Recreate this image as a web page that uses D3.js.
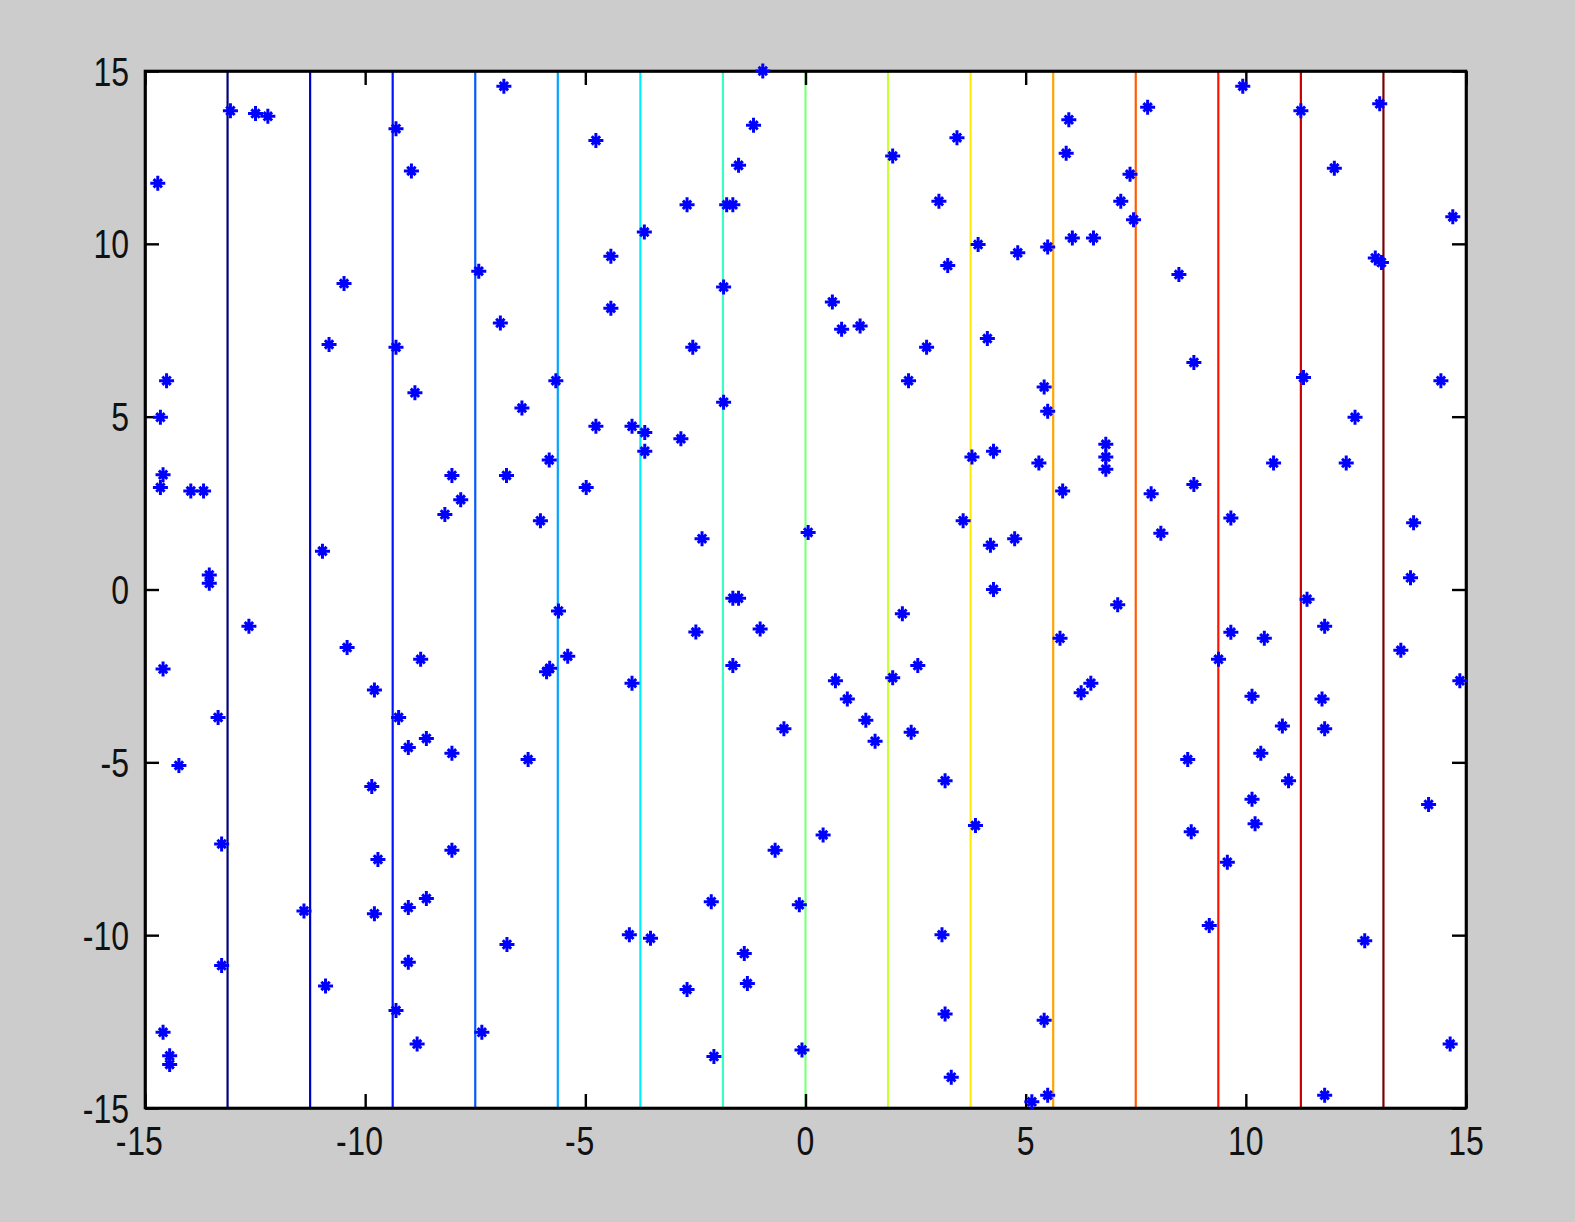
<!DOCTYPE html>
<html>
<head>
<meta charset="utf-8">
<script src="https://cdn.jsdelivr.net/npm/d3@7"></script>
<style>
  html, body { margin: 0; padding: 0; background: #cccccc; }
  svg { display: block; }
</style>
</head>
<body>
<svg id="chart" width="1575" height="1222"></svg>
<script>
// ---------------- data ----------------
const xDomain = [-15, 15];
const yDomain = [-15, 15];
const xTickValues = [-15, -10, -5, 0, 5, 10, 15];
const yTickValues = [-15, -10, -5, 0, 5, 10, 15];

// vertical reference lines (x positions) and their jet colours
const lineX = [-13.125, -11.25, -9.375, -7.5, -5.625, -3.75, -1.875, 0, 1.875, 3.75, 5.625, 7.5, 9.375, 11.25, 13.125];
const lineColors = ["#000080", "#0000c8", "#0012ff", "#005bff", "#00a4ff", "#00edff", "#37ffc8", "#80ff80",
                    "#c8ff37", "#ffed00", "#ffa400", "#ff5b00", "#ff1200", "#c80000", "#800000"];

// scattered points
const pointX = [
  -13.06, -12.49, -12.21, -9.30, -8.95, -6.85, -14.71, -7.42, -10.48, -6.93, -10.82, -9.30, -14.51, -5.67, -8.87, -6.44,
  -14.65, -5.82, -14.59, -14.65, -13.96, -13.67, -8.03, -6.79, -7.83, -8.19, -6.02, -4.98, -10.97, -13.54, -13.54,
  -0.97, -1.18, -4.76, 3.44, 1.98, -1.52, -2.69, -1.79, -1.65, 3.03, -3.66, 3.92, 4.82, -4.42, 3.23, -1.86, 0.61,
  -4.42, 0.82, 1.24, 4.13, -2.56, 2.75, 2.34, -1.86, -4.76, -3.94, -3.65, -2.83, -3.65, 3.78, 4.27, 3.58, 0.06,
  -2.35, 4.20, 4.75, 4.27,
  9.93, 7.77, 11.25, 13.04, 5.98, 5.92, 12.01, 7.37, 7.16, 7.45, 14.70, 6.06, 6.54, 5.50, 12.94, 13.08, 8.48, 8.82,
  11.31, 14.43, 5.42, 5.50, 12.48, 6.82, 6.82, 6.82, 5.30, 10.63, 12.28, 5.84, 7.85, 8.82, 9.66, 13.81, 8.07, 13.74,
  -5.61, -12.64, -10.41, -5.40, -8.74, -14.59, -5.88, -5.81, -9.79, -13.34, -9.24, -8.61, -9.02, -8.03, -6.30, -14.23,
  -9.85, -13.26, -8.03, -9.71, -11.39, -9.79, -9.02, -8.61, -6.78, -13.26, -9.02, -10.90, -9.30, -14.59, -7.35, -8.82,
  -14.44, -14.44,
  -1.65, -1.52, 2.20, -2.49, -1.03, -1.65, 2.55, -3.94, 0.68, 1.98, 0.95, 1.37, -0.49, 2.40, 1.58, 3.17, 3.86, 0.40,
  -0.69, -2.14, -0.14, -4.00, -3.52, 3.10, -1.39, -2.69, -1.32, 3.17, -2.08, -0.08, 3.31,
  11.39, 7.09, 11.79, 5.78, 9.66, 10.42, 13.52, 9.38, 14.86, 6.26, 6.48, 10.14, 11.73, 10.83, 11.79, 10.34, 8.68,
  10.97, 10.14, 14.15, 10.21, 8.76, 9.58, 9.17, 12.70, 5.42, 14.64, 5.50, 5.14, 11.79
];
const pointY = [
  13.85, 13.77, 13.69, 13.33, 12.11, 14.56, 11.75, 9.21, 8.85, 7.71, 7.09, 7.01, 6.04, 6.04, 5.69, 5.25,
  4.98, 3.75, 3.32, 2.95, 2.85, 2.85, 3.30, 3.30, 2.60, 2.17, 1.99, 2.95, 1.11, 0.42, 0.18,
  15.0, 13.43, 12.99, 13.07, 12.54, 12.27, 11.13, 11.13, 11.13, 11.23, 10.34, 9.98, 9.74, 9.64, 9.37, 8.75, 8.32,
  8.14, 7.53, 7.62, 7.26, 7.01, 7.01, 6.04, 5.42, 4.72, 4.72, 4.54, 4.36, 4.00, 3.83, 4.00, 1.99, 1.65,
  1.47, 1.28, 1.47, 0.0,
  14.56, 13.95, 13.85, 14.05, 13.59, 12.62, 12.19, 12.01, 11.23, 10.70, 10.78, 10.17, 10.17, 9.91, 9.59, 9.46, 9.11, 6.57,
  6.13, 6.04, 5.86, 5.16, 4.98, 4.20, 3.83, 3.48, 3.66, 3.66, 3.66, 2.85, 2.77, 3.04, 2.07, 1.93, 1.63, 0.34,
  -0.62, -1.06, -1.68, -1.93, -2.02, -2.30, -2.38, -2.28, -2.91, -3.70, -3.70, -4.31, -4.57, -4.74, -4.92, -5.09,
  -5.70, -7.36, -7.54, -7.81, -9.30, -9.38, -9.20, -8.94, -10.27, -10.88, -10.78, -11.47, -12.18, -12.81, -12.81, -13.15,
  -13.49, -13.74,
  -0.25, -0.25, -0.70, -1.23, -1.14, -2.20, -2.20, -2.71, -2.64, -2.55, -3.17, -3.78, -4.03, -4.13, -4.39, -5.53, -6.83, -7.10,
  -7.54, -9.03, -9.12, -9.99, -10.09, -9.99, -10.53, -11.57, -11.40, -12.28, -13.51, -13.32, -14.11,
  -0.28, -0.44, -1.06, -1.41, -1.24, -1.41, -1.76, -2.02, -2.64, -2.99, -2.71, -3.09, -3.17, -3.95, -4.03, -4.74, -4.92,
  -5.53, -6.07, -6.22, -6.78, -7.01, -7.89, -9.72, -10.16, -12.46, -13.15, -14.63, -14.82, -14.63
];

// ---------------- layout ----------------
const plot = { left: 145, right: 1466, top: 71, bottom: 1108 };
const svg = d3.select("#chart");

svg.append("rect").attr("x", 0).attr("y", 0).attr("width", 1575).attr("height", 1222).attr("fill", "#cccccc");

const x = d3.scaleLinear().domain(xDomain).range([plot.left, plot.right]);
const y = d3.scaleLinear().domain(yDomain).range([plot.bottom, plot.top]);

svg.append("rect")
  .attr("x", plot.left).attr("y", plot.top)
  .attr("width", plot.right - plot.left).attr("height", plot.bottom - plot.top)
  .attr("fill", "#ffffff");

// vertical coloured lines
svg.append("g").selectAll("line")
  .data(lineX.map((v, i) => ({ v, c: lineColors[i] })))
  .join("line")
  .attr("x1", d => x(d.v)).attr("x2", d => x(d.v))
  .attr("y1", y(yDomain[0])).attr("y2", y(yDomain[1]))
  .attr("stroke", d => d.c)
  .attr("stroke-width", 2.2);

// axes with inward ticks (box on all four sides)
const tickLen = 14;
const axisStyle = g => {
  g.select(".domain").attr("stroke", "#000").attr("stroke-width", 2.6);
  g.selectAll(".tick line").attr("stroke", "#000").attr("stroke-width", 2.4);
  g.selectAll(".tick text").remove();
};
svg.append("g").attr("transform", `translate(0,${plot.bottom})`)
  .call(d3.axisTop(x).tickValues(xTickValues).tickSize(tickLen).tickSizeOuter(0)).call(axisStyle);
svg.append("g").attr("transform", `translate(0,${plot.top})`)
  .call(d3.axisBottom(x).tickValues(xTickValues).tickSize(tickLen).tickSizeOuter(0)).call(axisStyle);
svg.append("g").attr("transform", `translate(${plot.left},0)`)
  .call(d3.axisRight(y).tickValues(yTickValues).tickSize(tickLen).tickSizeOuter(0)).call(axisStyle);
svg.append("g").attr("transform", `translate(${plot.right},0)`)
  .call(d3.axisLeft(y).tickValues(yTickValues).tickSize(tickLen).tickSizeOuter(0)).call(axisStyle);

// box outline
svg.append("rect")
  .attr("x", plot.left).attr("y", plot.top)
  .attr("width", plot.right - plot.left).attr("height", plot.bottom - plot.top)
  .attr("fill", "none").attr("stroke", "#000").attr("stroke-width", 2.6);

// tick labels (narrow, tall MATLAB-like sans)
const fontSize = 40, sx = 0.8;
const labelFont = "'Liberation Sans', Arial, sans-serif";

// x labels: digits centred on tick, minus hanging left
const xl = svg.append("g");
xTickValues.forEach(v => {
  const g = xl.append("g").attr("transform", `translate(${x(v)},1155) scale(${sx},1)`);
  const t = g.append("text").text(String(Math.abs(v)))
    .attr("text-anchor", "middle").attr("font-family", labelFont)
    .attr("font-size", fontSize).attr("fill", "#111");
  if (v < 0) {
    const w = t.node().getComputedTextLength();
    g.append("text").text("-").attr("x", -w / 2 - 1)
      .attr("text-anchor", "end").attr("font-family", labelFont)
      .attr("font-size", fontSize).attr("fill", "#111");
  }
});

// y labels: right-aligned left of the axis
const yl = svg.append("g");
yTickValues.forEach(v => {
  const g = yl.append("g").attr("transform", `translate(129,${y(v) + 14.5}) scale(${sx},1)`);
  g.append("text").text(String(v))
    .attr("text-anchor", "end").attr("font-family", labelFont)
    .attr("font-size", fontSize).attr("fill", "#111");
});

// point markers (MATLAB '*' blob)
const markerPlus = "M-7.5,0H7.5M0,-7.5V7.5";
const markerX = "M-4.2,-4.2L4.2,4.2M-4.2,4.2L4.2,-4.2";
const pts = svg.append("g").selectAll("g")
  .data(pointX.map((v, i) => ({ x: v, y: pointY[i] })))
  .join("g")
  .attr("transform", d => `translate(${x(d.x)},${y(d.y)})`);
pts.append("path").attr("d", markerPlus).attr("stroke", "#0000ff").attr("stroke-width", 3).attr("fill", "none");
pts.append("path").attr("d", markerX).attr("stroke", "#0000ff").attr("stroke-width", 3).attr("fill", "none");
pts.append("circle").attr("r", 3.8).attr("fill", "#0000ff");
</script>
</body>
</html>
